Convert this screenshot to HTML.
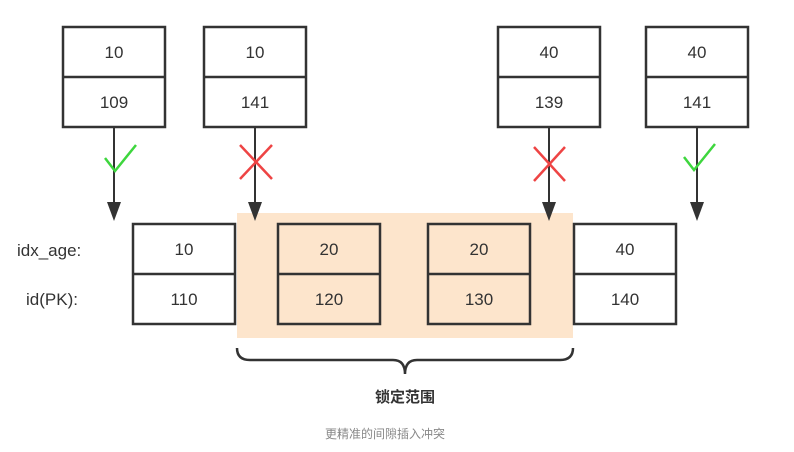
<!DOCTYPE html>
<html><head><meta charset="utf-8"><style>
html,body{margin:0;padding:0;background:#fff;width:794px;height:452px;overflow:hidden}
text{font-family:"Liberation Sans","Noto Sans CJK SC",sans-serif}
</style></head><body>
<svg width="794" height="452" viewBox="0 0 794 452" xmlns="http://www.w3.org/2000/svg">
<rect x="237" y="213" width="336" height="125" fill="#fde5cc"/>
<g fill="none" stroke="#333" stroke-width="2.5">
<rect x="63" y="27" width="102" height="100" fill="#fff"/><line x1="63" y1="77" x2="165" y2="77"/>
<rect x="204" y="27" width="102" height="100" fill="#fff"/><line x1="204" y1="77" x2="306" y2="77"/>
<rect x="498" y="27" width="102" height="100" fill="#fff"/><line x1="498" y1="77" x2="600" y2="77"/>
<rect x="646" y="27" width="102" height="100" fill="#fff"/><line x1="646" y1="77" x2="748" y2="77"/>
<rect x="133" y="224" width="102" height="100" fill="#fff"/><line x1="133" y1="274" x2="235" y2="274"/>
<rect x="278" y="224" width="102" height="100"/><line x1="278" y1="274" x2="380" y2="274"/>
<rect x="428" y="224" width="102" height="100"/><line x1="428" y1="274" x2="530" y2="274"/>
<rect x="574" y="224" width="102" height="100" fill="#fff"/><line x1="574" y1="274" x2="676" y2="274"/>
</g>
<g stroke="#333" stroke-width="2">
<line x1="114" y1="127" x2="114" y2="206"/><line x1="255" y1="127" x2="255" y2="206"/>
<line x1="549" y1="127" x2="549" y2="206"/><line x1="697" y1="127" x2="697" y2="206"/>
</g>
<g fill="#333">
<polygon points="107,202 121,202 114,221"/><polygon points="248,202 262,202 255,221"/>
<polygon points="542,202 556,202 549,221"/><polygon points="690,202 704,202 697,221"/>
</g>
<g fill="none" stroke="#3ed63e" stroke-width="2.5">
<polyline points="105,158 115,171 136,145"/><polyline points="684,157 694,170 715,144"/>
</g>
<g stroke="#ee4444" stroke-width="2.5">
<line x1="240" y1="145" x2="272" y2="179"/><line x1="272" y1="145" x2="240" y2="179"/>
<line x1="534" y1="147" x2="565" y2="181"/><line x1="565" y1="147" x2="534" y2="181"/>
</g>
<g font-size="17" fill="#333" text-anchor="middle">
<text x="114" y="58">10</text><text x="114" y="108">109</text>
<text x="255" y="58">10</text><text x="255" y="108">141</text>
<text x="549" y="58">40</text><text x="549" y="108">139</text>
<text x="697" y="58">40</text><text x="697" y="108">141</text>
<text x="184" y="255">10</text><text x="184" y="305">110</text>
<text x="329" y="255">20</text><text x="329" y="305">120</text>
<text x="479" y="255">20</text><text x="479" y="305">130</text>
<text x="625" y="255">40</text><text x="625" y="305">140</text>
</g>
<text x="17" y="256" font-size="17" fill="#333">idx_age:</text>
<text x="26" y="305" font-size="17" fill="#333">id(PK):</text>
<path d="M237,348 Q237,360 250,360 L393,360 Q405,360 405,374 Q405,360 417,360 L560,360 Q573,360 573,348" fill="none" stroke="#333" stroke-width="2.5"/>
<text x="405" y="402" font-size="15" font-weight="bold" fill="#333" text-anchor="middle">锁定范围</text>
<text x="385" y="438" font-size="12" fill="#888" text-anchor="middle">更精准的间隙插入冲突</text>
</svg>
</body></html>
